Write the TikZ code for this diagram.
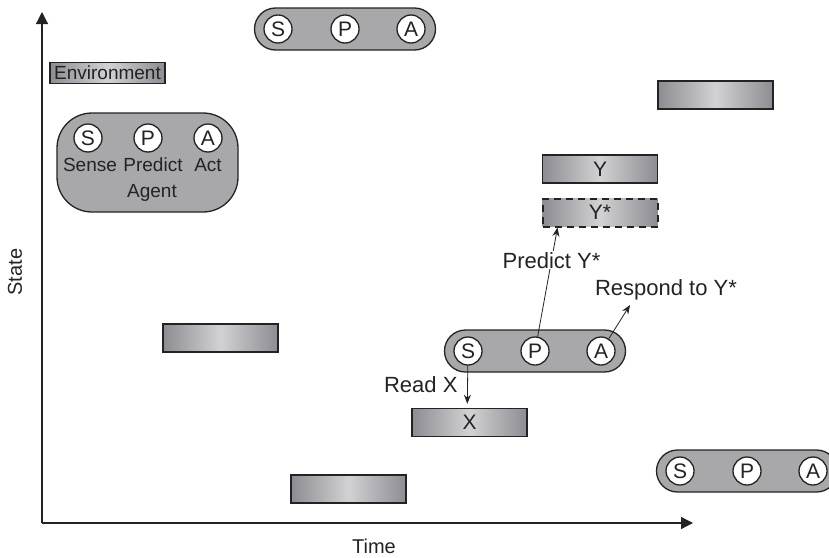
\documentclass[tikz,border=0pt]{standalone}
\usepackage{fontspec}
\setmainfont{Liberation Sans}
\usetikzlibrary{arrows.meta,positioning}
\definecolor{spaInk}{RGB}{35,35,35}
\definecolor{spaBody}{RGB}{168,168,170}
\definecolor{spaEdge}{RGB}{140,140,146}
\definecolor{spaGlow}{RGB}{210,210,212}

\begin{document}
\begin{tikzpicture}[x=1pt,y=-1pt,
    every node/.style={font=\fontsize{19}{21}\selectfont,text=spaInk},
    tag/.style={font=\fontsize{22}{24}\selectfont},
    slab/.style={draw=spaInk,line width=1.5pt,left color=spaEdge,right color=spaEdge,middle color=spaGlow,minimum width=115pt,minimum height=28pt,inner sep=0pt,font=\fontsize{21}{23}\selectfont},
    pod/.style={draw=spaInk,line width=1.3pt,fill=spaBody,rounded corners=21pt,minimum width=181pt,minimum height=42pt},
    dot/.style={circle,draw=spaInk,line width=1.3pt,fill=white,minimum size=28pt,inner sep=0pt,font=\fontsize{21}{23}\selectfont},
    arr/.style={-{Stealth[length=9pt,width=7pt]},line width=0.8pt,draw=spaInk},
    axisline/.style={-{Triangle[length=12pt,width=12pt]},line width=1.2pt,draw=spaInk}
  ]
  \clip (0,0) rectangle (829,557);

  % axes
  \coordinate (origin) at (42,523);
  \coordinate (ytip) at (42,12);
  \coordinate (xtip) at (693,523);
  \draw[axisline] (origin) -- (ytip);
  \draw[axisline] (origin) -- (xtip);
  \node[rotate=90,tag,font=\fontsize{20}{22}\selectfont] (state) at (15,272) {State};
  \node[tag,font=\fontsize{20}{22}\selectfont] (time) at (374,546) {Time};

  % legend
  \node[slab,minimum height=21pt,font=\fontsize{19}{21}\selectfont] (env) at (107.5,73) {Environment};
  \node[pod,rounded corners=35pt,minimum height=99pt] (agent) at (147.5,162.5) {};
  \node[dot] (agent-s) at (88,138) {S};
  \node[dot] (agent-p) at (148,138) {P};
  \node[dot] (agent-a) at (208,138) {A};
  \node (sense) at (90,165) {Sense};
  \node (predict) at (153,165) {Predict};
  \node (act) at (208,165) {Act};
  \node (agentlbl) at (152,193) {Agent};

  % environment states
  \node[slab] (e1) at (220.5,338) {};
  \node[slab] (e2) at (348.5,489) {};
  \node[slab] (x) at (469.5,422.5) {X};
  \node[slab] (y) at (600,169) {Y};
  \node[slab,dash pattern=on 7pt off 5pt,line width=2pt] (ystar) at (600,212.5) {Y*};
  \node[slab] (e3) at (715.5,95) {};

  % agents
  \foreach \nm/\cx/\cy in {top/345/29,mid/535/351,low/747/471} {
    \node[pod] (\nm) at (\cx,\cy) {};
    \node[dot] (\nm-s) at ([xshift=-67pt]\nm.center) {S};
    \node[dot] (\nm-p) at (\nm.center) {P};
    \node[dot] (\nm-a) at ([xshift=66pt]\nm.center) {A};
  }

  % sense, predict, act
  \draw[arr,shorten >=4pt] (mid-s) -- ([xshift=56pt]x.north west);
  \node[tag,anchor=east] (readx) at (461,385) {Read X};
  \draw[arr] (mid-p) -- node[tag,fill=white,pos=0.7,inner sep=1pt] (predlbl) {Predict Y*} ([xshift=16pt]ystar.south west);
  \coordinate (resptip) at (630,305);
  \draw[arr] (mid-a) -- (resptip);
  \node[tag] (resp) at (666,290) {Respond to Y*};
\end{tikzpicture}
\end{document}
